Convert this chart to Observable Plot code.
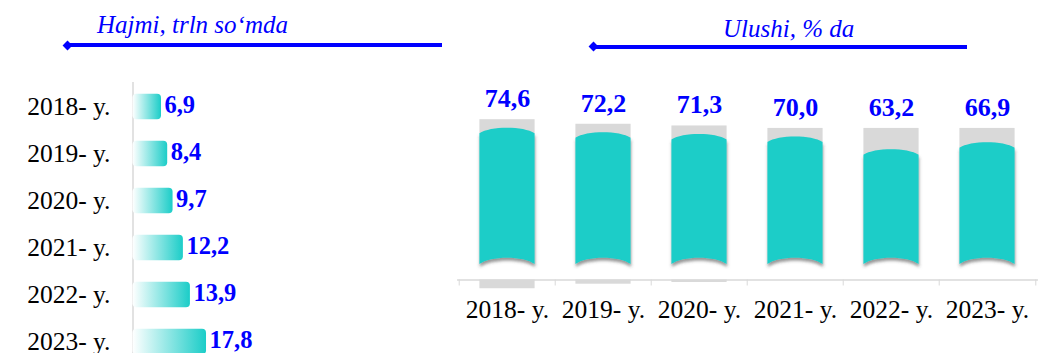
<!DOCTYPE html>
<html><head><meta charset="utf-8">
<script src="https://cdn.jsdelivr.net/npm/d3@7"></script>
<script src="https://cdn.jsdelivr.net/npm/@observablehq/plot@0.6"></script>
<style>
html,body{margin:0;padding:0;background:#fff;}
#wrap{position:relative;width:1040px;height:353px;overflow:hidden;font-family:"Liberation Serif","Times New Roman",serif;}
.hdr{position:absolute;font-style:italic;font-size:25px;color:#0000ff;line-height:25px;white-space:nowrap;}
.hline{position:absolute;height:4px;background:#0000ff;}
.diam{position:absolute;width:7px;height:7px;background:#0000ff;transform:rotate(45deg);}
#left{position:absolute;left:0;top:0;width:440px;height:353px;overflow:hidden;}
#right{position:absolute;left:440px;top:0;width:600px;height:353px;overflow:hidden;}
#left svg,#right svg{display:block;}
</style></head><body>
<div id="wrap">
  <div class="hdr" style="left:97px;top:12px">Hajmi, trln so‘mda</div>
  <div class="hline" style="left:65px;top:43px;width:377px"></div>
  <div class="diam" style="left:63.5px;top:41.5px"></div>
  <div class="hdr" style="left:723px;top:15.8px">Ulushi, % da</div>
  <div class="hline" style="left:591px;top:44.7px;width:376px"></div>
  <div class="diam" style="left:589.5px;top:43.2px"></div>
  <div id="left"></div>
  <div id="right"></div>
</div>
<script>
// ---- data ----
const years = ["2018- y.", "2019- y.", "2020- y.", "2021- y.", "2022- y.", "2023- y."];
const volume = [6.9, 8.4, 9.7, 12.2, 13.9, 17.8];      // Hajmi, trln so'mda
const share = [74.6, 72.2, 71.3, 70.0, 63.2, 66.9];    // Ulushi, % da

const FONT = '"Liberation Serif","Times New Roman",serif';
const TEAL = "#1bcdc8";
const BLUE = "#0000ff";
const fmt = v => d3.format(".1f")(v).replace(".", ",");

const leftData = years.map((y, i) => ({year: y, value: volume[i]}));
const rightData = years.map((y, i) => ({year: y, value: share[i]}));

function defsMark() {
  const defs = d3.create("svg:defs");
  const g = defs.append("linearGradient").attr("id", "lgrad")
    .attr("x1", "0").attr("x2", "1").attr("y1", "0").attr("y2", "0");
  g.append("stop").attr("offset", "0%").attr("stop-color", "#ffffff");
  g.append("stop").attr("offset", "100%").attr("stop-color", TEAL);
  const f = defs.append("filter").attr("id", "rshadow")
    .attr("x", "-20%").attr("y", "-20%").attr("width", "140%").attr("height", "140%");
  f.append("feDropShadow").attr("dx", 0.5).attr("dy", 3).attr("stdDeviation", 1.6)
    .attr("flood-color", "#444").attr("flood-opacity", 0.55);
  return defs.node();
}

// ---- left chart: horizontal bars ----
const left = Plot.plot({
  width: 440, height: 370,
  marginTop: 82, marginBottom: 0, marginLeft: 132.5, marginRight: 0,
  x: {domain: [0, 20], range: [132.5, 215.1], axis: null},
  y: {domain: years, range: [81.9, 365.1], padding: 0},
  style: {fontFamily: FONT, background: "transparent"},
  marks: [
    defsMark,
    Plot.ruleX([0], {stroke: "#d9d9d9", strokeWidth: 1.5}),
    Plot.barX(leftData, {x: "value", y: "year", fill: "url(#lgrad)", rx: 4, insetTop: 10.85, insetBottom: 10.85}),
    Plot.axisY({tickSize: 0, tickPadding: 22.5, fontSize: 25.5, fill: "#000", fontFamily: FONT, label: null}),
    Plot.text(leftData, {x: "value", y: "year", text: d => fmt(d.value), dx: 3, dy: -2, textAnchor: "start",
      fill: BLUE, fontWeight: "bold", fontSize: 24.5, fontFamily: FONT})
  ]
});
document.getElementById("left").append(left);

// ---- right chart: vertical bars ----
const FLOOR = -5.5;                       // axis line level in % units
const capTop = d => Math.max(d.value, 70) + 4.5;
const W = 600, ML = 17.3, MR = 3.3;
const step = (W - ML - MR) / years.length;
const inset = 20.4;

function curvedRender(index, scales, values, dimensions, context, next) {
  const g = next(index, scales, values, dimensions, context);
  d3.select(g).selectAll("rect").each(function () {
    const r = d3.select(this);
    const x0 = +r.attr("x"), w = +r.attr("width"), yt = +r.attr("y");
    const yb = yt + +r.attr("height");
    const x1 = x0 + w;
    const te = yt + 5.5, tc = yt - 1.83;
    const be = yb - 5, bc = yb - 13.5;
    const d = `M${x0},${te} C${x0 + w * 0.2},${tc} ${x1 - w * 0.2},${tc} ${x1},${te} ` +
              `L${x1},${be} C${x1 - w * 0.2},${bc} ${x0 + w * 0.2},${bc} ${x0},${be} Z`;
    const p = document.createElementNS("http://www.w3.org/2000/svg", "path");
    p.setAttribute("d", d);
    p.setAttribute("fill", r.attr("fill") || TEAL);
    p.setAttribute("filter", "url(#rshadow)");
    this.parentNode.insertBefore(p, this);
    this.remove();
  });
  return g;
}

const right = Plot.plot({
  width: W, height: 353,
  marginTop: 0, marginBottom: 73.5, marginLeft: ML, marginRight: MR,
  x: {domain: years, padding: 0, label: null},
  y: {domain: [0, 100], range: [269.1, 79.6], axis: null},
  style: {fontFamily: FONT, background: "transparent"},
  marks: [
    Plot.barY(rightData, {x: "year", y1: d => d.value - 3, y2: capTop, fill: "#d9d9d9", insetLeft: inset, insetRight: inset}),
    Plot.barY(rightData, {x: "year", y1: FLOOR, y2: d => Math.min(FLOOR, 69 - capTop(d)), fill: "#d9d9d9", insetLeft: inset, insetRight: inset}),
    Plot.frame({anchor: "bottom", stroke: "#d9d9d9", strokeWidth: 1.5}),
    Plot.axisX({tickSize: 6, tickFormat: () => "", dx: -step / 2, stroke: "#d9d9d9", label: null}),
    Plot.axisX({ticks: [years[years.length - 1]], tickSize: 6, tickFormat: () => "", dx: step / 2, stroke: "#d9d9d9", label: null}),
    Plot.axisX({tickSize: 0, tickPadding: 19.5, fontSize: 25.5, fill: "#000", fontFamily: FONT, label: null}),
    Plot.barY(rightData, {x: "year", y: "value", fill: TEAL, insetLeft: inset, insetRight: inset, render: curvedRender}),
    Plot.text(rightData, {x: "year", y: capTop, text: d => fmt(d.value), dy: -12.5, lineAnchor: "bottom",
      fill: BLUE, fontWeight: "bold", fontSize: 26, fontFamily: FONT})
  ]
});
document.getElementById("right").append(right);
</script>
</body></html>
